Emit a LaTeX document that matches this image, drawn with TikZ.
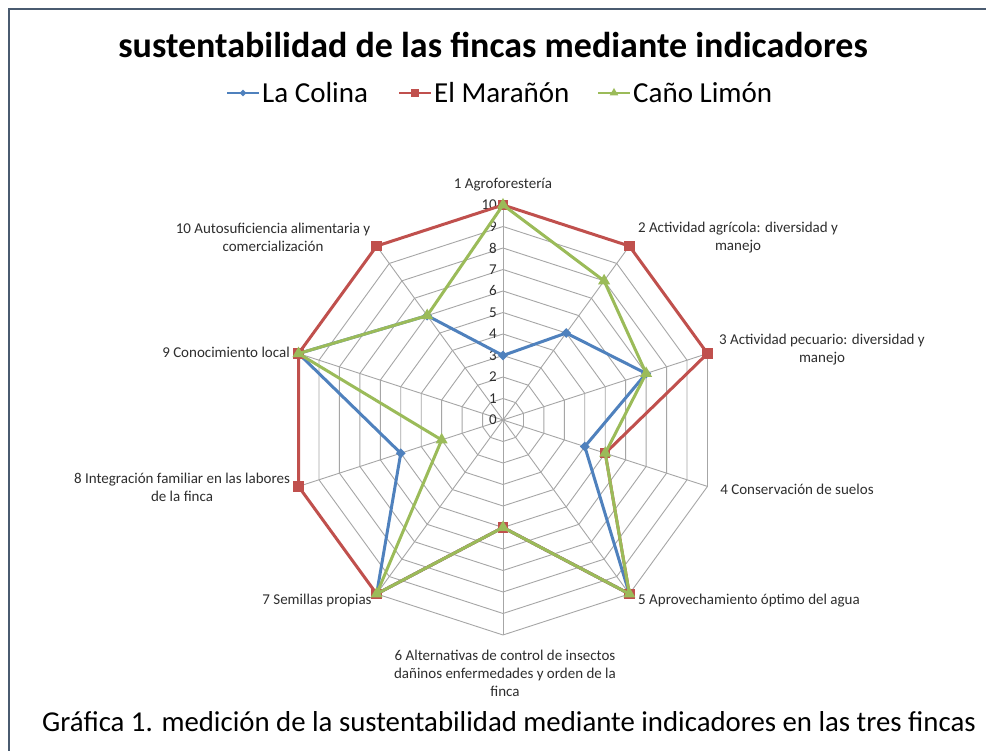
\documentclass[tikz,border=0pt]{standalone}
\usepackage{fontspec}
\setmainfont{Carlito}
\usetikzlibrary{shapes.geometric}

\definecolor{colina}{HTML}{4F81BD}
\definecolor{maranon}{HTML}{C0504D}
\definecolor{cano}{HTML}{9BBB59}
\definecolor{rejilla}{HTML}{A6A6A6}
\definecolor{marco}{HTML}{4A5B70}
\definecolor{texto}{HTML}{2E2E2E}

\newcommand{\unidad}{21.5}

\tikzset{
  grid line/.style={draw=rejilla, line width=0.9pt},
  serie/.style={line width=3pt, line join=round},
  colina mark/.style={diamond, fill=colina, inner sep=0pt, minimum size=10pt},
  maranon mark/.style={rectangle, fill=maranon, inner sep=0pt, minimum size=10.5pt},
  cano mark/.style={regular polygon, regular polygon sides=3, fill=cano, inner sep=0pt, minimum size=14pt},
  axis label/.style={text=texto, font=\fontsize{15}{18}\selectfont, align=center, inner sep=0pt},
  tick label/.style={text=texto, font=\fontsize{15}{18}\selectfont, inner sep=0pt, anchor=east},
  leyenda/.style={font=\fontsize{29}{34}\selectfont, inner sep=0pt, anchor=west},
}

\begin{document}
\begin{tikzpicture}[x=1pt,y=1pt]
\useasboundingbox (0,0) rectangle (986,751);
\fill[white] (0,0) rectangle (986,751);

% marco
\draw[marco, line width=2.5pt] (9,0) -- (9,742) -- (986,742);

% titulo y leyenda
\node[font=\bfseries\fontsize{36}{40}\selectfont, inner sep=0pt] (titulo) at (493,706) {sustentabilidad de las fincas mediante indicadores};

\node[leyenda] (lcol) at (262,658) {La Colina};
\node[leyenda] (lmar) at (434,658) {El Marañón};
\node[leyenda] (lcan) at (633,658) {Caño Limón};
\draw[colina, line width=2pt] ([xshift=-35pt]lcol.west) -- ([xshift=-3pt]lcol.west);
\draw[maranon, line width=2pt] ([xshift=-35pt]lmar.west) -- ([xshift=-3pt]lmar.west);
\draw[cano, line width=2pt] ([xshift=-35pt]lcan.west) -- ([xshift=-3pt]lcan.west);
\node[colina mark, minimum size=7pt] at ([xshift=-19pt]lcol.west) {};
\node[maranon mark, minimum size=8pt] at ([xshift=-19pt]lmar.west) {};
\node[cano mark, minimum size=10pt] at ([xshift=-19pt]lcan.west) {};

\begin{scope}[shift={(503,331)}]
% rejilla
\foreach \r in {1,...,10}
  \draw[grid line] (90:\r*\unidad) -- (54:\r*\unidad) -- (18:\r*\unidad) -- (-18:\r*\unidad)
    -- (-54:\r*\unidad) -- (-90:\r*\unidad) -- (-126:\r*\unidad) -- (-162:\r*\unidad)
    -- (162:\r*\unidad) -- (126:\r*\unidad) -- cycle;
\foreach \a in {90,54,...,-234}
  \draw[grid line] (0,0) -- (\a:10*\unidad);

% escala
\foreach \k in {0,...,10}
  \node[tick label] (t\k) at (-6,\k*\unidad) {\k};

% La Colina
\coordinate (col1) at (90:3*\unidad);
\coordinate (col2) at (54:5*\unidad);
\coordinate (col3) at (18:7*\unidad);
\coordinate (col4) at (-18:4*\unidad);
\coordinate (col5) at (-54:10*\unidad);
\coordinate (col6) at (-90:5*\unidad);
\coordinate (col7) at (-126:10*\unidad);
\coordinate (col8) at (-162:5*\unidad);
\coordinate (col9) at (162:10*\unidad);
\coordinate (col10) at (126:6*\unidad);

% El Marañón
\coordinate (mar1) at (90:10*\unidad);
\coordinate (mar2) at (54:10*\unidad);
\coordinate (mar3) at (18:10*\unidad);
\coordinate (mar4) at (-18:5*\unidad);
\coordinate (mar5) at (-54:10*\unidad);
\coordinate (mar6) at (-90:5*\unidad);
\coordinate (mar7) at (-126:10*\unidad);
\coordinate (mar8) at (-162:10*\unidad);
\coordinate (mar9) at (162:10*\unidad);
\coordinate (mar10) at (126:10*\unidad);

% Caño Limón
\coordinate (can1) at (90:10*\unidad);
\coordinate (can2) at (54:8*\unidad);
\coordinate (can3) at (18:7*\unidad);
\coordinate (can4) at (-18:5*\unidad);
\coordinate (can5) at (-54:10*\unidad);
\coordinate (can6) at (-90:5*\unidad);
\coordinate (can7) at (-126:10*\unidad);
\coordinate (can8) at (-162:3*\unidad);
\coordinate (can9) at (162:10*\unidad);
\coordinate (can10) at (126:6*\unidad);

\draw[serie, colina] (col1) -- (col2) -- (col3) -- (col4) -- (col5) -- (col6) -- (col7) -- (col8) -- (col9) -- (col10) -- cycle;
\foreach \i in {1,...,10}
  \node[colina mark] (mcol\i) at (col\i) {};

\draw[serie, maranon] (mar1) -- (mar2) -- (mar3) -- (mar4) -- (mar5) -- (mar6) -- (mar7) -- (mar8) -- (mar9) -- (mar10) -- cycle;
\foreach \i in {1,...,10}
  \node[maranon mark] (mmar\i) at (mar\i) {};

\draw[serie, cano] (can1) -- (can2) -- (can3) -- (can4) -- (can5) -- (can6) -- (can7) -- (can8) -- (can9) -- (can10) -- cycle;
\foreach \i in {1,...,10}
  \node[cano mark] (mcan\i) at (can\i) {};
\end{scope}

% etiquetas de los ejes
\node[axis label] (eje1) at (503,566) {1 Agroforestería};
\node[axis label] (eje2) at (738,513) {2 Actividad agrícola: diversidad y\\manejo};
\node[axis label] (eje3) at (822,401) {3 Actividad pecuario: diversidad y\\manejo};
\node[axis label] (eje4) at (797,262) {4 Conservación de suelos};
\node[axis label] (eje5) at (749,150) {5 Aprovechamiento óptimo del agua};
\node[axis label] (eje6) at (505,78) {6 Alternativas de control de insectos\\dañinos enfermedades y orden de la\\finca};
\node[axis label] (eje7) at (317,150) {7 Semillas propias};
\node[axis label] (eje8) at (182,264) {8 Integración familiar en las labores\\de la finca};
\node[axis label] (eje9) at (226,399) {9 Conocimiento local};
\node[axis label] (eje10) at (273,514) {10 Autosuficiencia alimentaria y\\comercialización};

% pie
\node[font=\fontsize{28.8}{32}\selectfont, inner sep=0pt] (pie) at (509,29) {Gráfica 1. medición de la sustentabilidad mediante indicadores en las tres fincas};
\end{tikzpicture}
\end{document}
